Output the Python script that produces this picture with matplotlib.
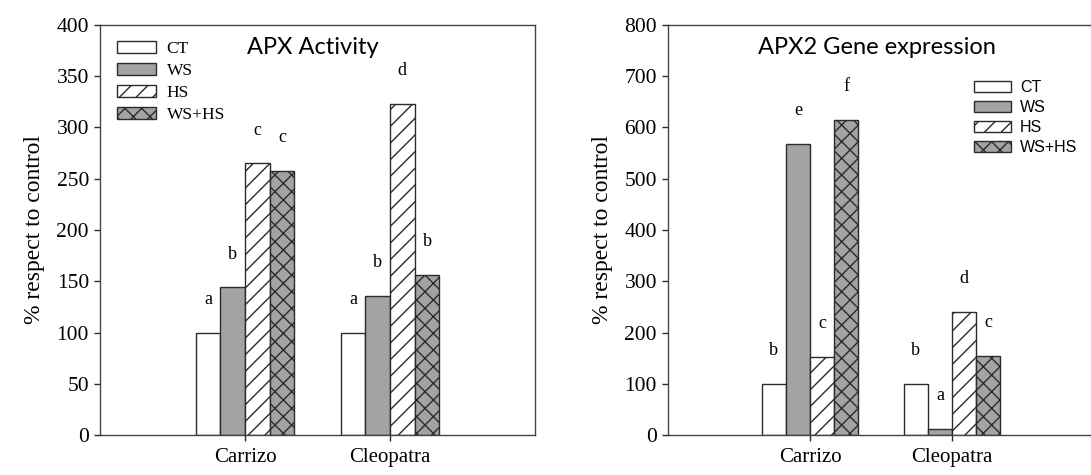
import numpy as np
import matplotlib
matplotlib.use("Agg")
import matplotlib.pyplot as plt

# datos
cultivars = ["Carrizo", "Cleopatra"]
treatments = ["CT", "WS", "HS", "WS+HS"]

apx_act = {"CT": [100, 100], "WS": [144, 136], "HS": [265, 323], "WS+HS": [258, 156]}
apx_act_let = {"CT": ["a", "a"], "WS": ["b", "b"], "HS": ["c", "d"], "WS+HS": ["c", "b"]}

apx2_gene = {"CT": [100, 100], "WS": [568, 12], "HS": [152, 240], "WS+HS": [615, 154]}
apx2_gene_let = {"CT": ["b", "b"], "WS": ["e", "a"], "HS": ["c", "d"], "WS+HS": ["f", "c"]}

gray = "#a3a3a3"
edge = "#2b2b2b"
styles = {"CT": dict(color="white", hatch=None),
          "WS": dict(color=gray, hatch=None),
          "HS": dict(color="white", hatch="//"),
          "WS+HS": dict(color=gray, hatch="xx")}

serif = ["Liberation Serif", "DejaVu Serif"]
plt.rcParams["hatch.linewidth"] = 1.0
plt.rcParams["hatch.color"] = "black"

fig = plt.figure(figsize=(10.91, 4.75), dpi=100)
ax1 = fig.add_axes([0.0917, 0.0842, 0.3987, 0.8632])
ax2 = fig.add_axes([0.6123, 0.0842, 0.3905, 0.8632])

x = np.arange(1, len(cultivars) + 1)
w = 0.17


def panel(ax, vals, lets, ymax, step, title, legfont, legpos, legsize, hl, hh, lsp):
    for i, t in enumerate(treatments):
        pos = x + (i - 1.5) * w
        ax.bar(pos, vals[t], width=w, facecolor=styles[t]["color"],
               edgecolor=edge, linewidth=1.0, hatch=styles[t]["hatch"], label=t)
        for px, v, l in zip(pos, vals[t], lets[t]):
            ax.annotate(l, (px, v), xytext=(0, 24), textcoords="offset points",
                        ha="center", va="center", fontsize=13, family=serif)
    ax.set_xlim(0, 3)
    ax.set_ylim(0, ymax)
    ax.set_yticks(np.arange(0, ymax + 1, step))
    ax.set_xticks(x)
    ax.set_xticklabels(cultivars, family=serif, fontsize=15)
    for lab in ax.get_yticklabels():
        lab.set_family(serif)
        lab.set_fontsize(15.5)
    ax.tick_params(axis="both", direction="out", length=4.5, width=1.0, color=edge)
    ax.tick_params(axis="x", pad=5)
    ax.tick_params(axis="y", pad=3.5)
    for s in ax.spines.values():
        s.set_color("#444444")
        s.set_linewidth(1.0)
    ax.set_ylabel("% respect to control", family=serif, fontsize=17, labelpad=8)
    ax.text(0.49, 0.945, title, transform=ax.transAxes, ha="center", va="center",
            fontsize=17, family=["Lato", "DejaVu Sans"])
    ax.legend(loc="upper left", bbox_to_anchor=legpos, frameon=False,
              prop=dict(family=legfont, size=legsize), handlelength=hl,
              handleheight=hh, labelspacing=lsp, handletextpad=0.6,
              borderpad=0, borderaxespad=0)


panel(ax1, apx_act, apx_act_let, 400, 50, "APX Activity", serif,
      (0.039, 0.962), 12.5, 2.25, 0.7, 0.34)
panel(ax2, apx2_gene, apx2_gene_let, 800, 100, "APX2 Gene expression",
      ["Liberation Sans", "DejaVu Sans"], (0.718, 0.866), 11.5, 2.3, 0.7, 0.32)
ax2.spines["right"].set_visible(False)

fig.savefig("out.png", dpi=100)
